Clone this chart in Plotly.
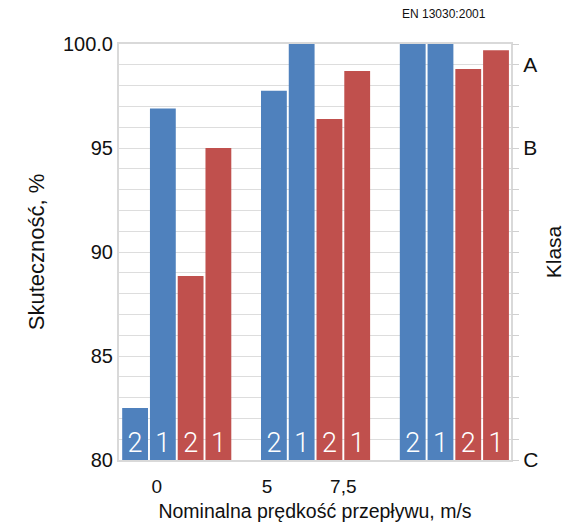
import plotly.graph_objects as go

# ---- data ----
group_labels = ["0", "5", "7,5"]          # x tick labels as printed
series_names = ["2", "1", "2", "1"]        # bar labels
series_colors = ["#4f81bd", "#4f81bd", "#c0504d", "#c0504d"]
values_blue_2 = [82.5, 97.75, 100.0]
values_blue_1 = [96.9, 100.0, 100.0]
values_red_2 = [88.85, 96.4, 98.8]
values_red_1 = [95.0, 98.7, 99.7]
class_labels = ["A", "B", "C"]
class_values = [99, 95, 80]
left_tick_values = [80, 85, 90, 95, 100]
left_tick_text = ["80", "85", "90", "95", "100.0"]

series_values = [values_blue_2, values_blue_1, values_red_2, values_red_1]

# ---- layout helpers ----
slots_per_group = 5
label_positions = [0.78, 4.75, 7.5]
bar_width = 0.93
label_y = 80.72
FONT = "Liberation Sans, Arial, sans-serif"

fig = go.Figure()
for s, vals in enumerate(series_values):
    xs = [g * slots_per_group + s for g in range(len(vals))]
    fig.add_trace(go.Bar(
        x=xs, y=vals, width=bar_width,
        marker=dict(color=series_colors[s], line=dict(width=0)),
        showlegend=False, hoverinfo="skip",
    ))
    fig.add_trace(go.Scatter(
        x=xs, y=[label_y] * len(vals), mode="text",
        text=[series_names[s]] * len(vals),
        textfont=dict(family="Roboto, Liberation Sans", size=27, color="white", weight=300),
        showlegend=False, hoverinfo="skip",
    ))

fig.add_trace(go.Scatter(x=[None], y=[None], yaxis="y2", showlegend=False))

grid_c = "rgba(210,210,210,0.75)"
fig.update_layout(
    width=580, height=523,
    margin=dict(l=111, r=77, t=36, b=69),
    paper_bgcolor="white", plot_bgcolor="white",
    barmode="overlay",
    font=dict(family=FONT, color="#111111"),
    xaxis=dict(
        range=[-0.58, 13.54],
        tickvals=label_positions, ticktext=group_labels,
        tickfont=dict(size=19), ticks="", showgrid=False, zeroline=False,
        ticklabelstandoff=8,
        showline=True, linecolor="#d9d9d9", linewidth=2, mirror=True,
        title=dict(text="Nominalna prędkość przepływu, m/s", font=dict(size=19.5), standoff=9),
    ),
    yaxis=dict(
        range=[80, 100],
        tickvals=left_tick_values, ticktext=left_tick_text,
        tickfont=dict(size=20), ticks="", ticklen=0,
        showgrid=False, zeroline=False,
        minor=dict(dtick=1, showgrid=True, gridcolor=grid_c, gridwidth=1, ticks=""),
        showline=True, linecolor="#d9d9d9", linewidth=2, mirror=True,
        layer="above traces",
        title=dict(text="Skuteczność, %", font=dict(size=22), standoff=12),
    ),
    yaxis2=dict(
        range=[80, 100], overlaying="y", side="right",
        tickvals=class_values, ticktext=class_labels,
        tickfont=dict(size=21), ticks="outside", ticklen=7, tickcolor="#d0d0d0",
        minor=dict(dtick=1, ticks="outside", ticklen=7, tickcolor="#d0d0d0", showgrid=False),
        showgrid=False, zeroline=False, showline=False,
        title=dict(text="Klasa", font=dict(size=21), standoff=8),
    ),
    annotations=[dict(
        text="EN 13030:2001", x=0.83, y=1.0, xref="paper", yref="paper",
        xanchor="center", yanchor="middle", yshift=30, showarrow=False,
        font=dict(size=12),
    )],
)

fig.write_html("out.html")
